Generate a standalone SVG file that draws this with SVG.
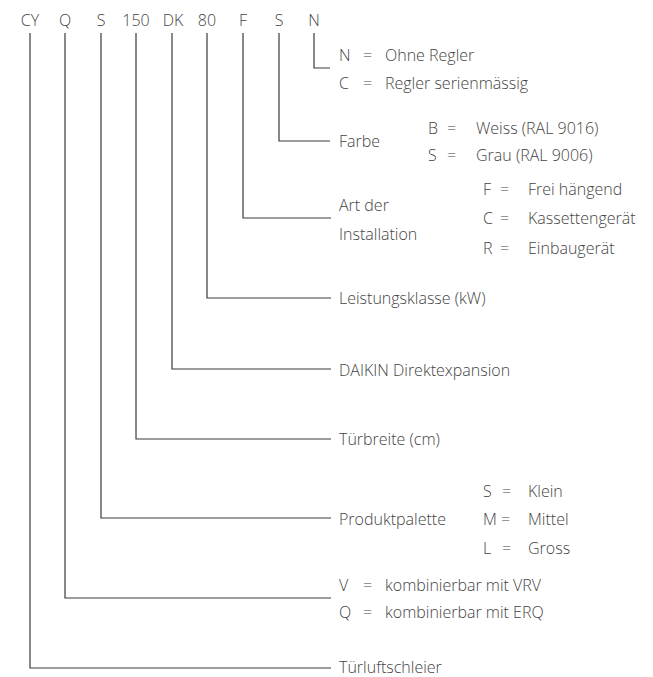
<svg xmlns="http://www.w3.org/2000/svg" width="653" height="677" viewBox="0 0 653 677">
<style>
text{font-family:"Open Sans","Noto Sans","Liberation Sans",sans-serif;font-size:16px;font-weight:300;fill:#444}
.c{text-anchor:middle}
.ln{fill:none;stroke:#3a3a3a;stroke-width:1.2}
</style>
<rect width="653" height="677" fill="#fff"/>
<g id="code">
<text class="c" x="30" y="26">CY</text>
<text class="c" x="65" y="26">Q</text>
<text class="c" x="101" y="26">S</text>
<text class="c" x="136" y="26">150</text>
<text class="c" x="173" y="26">DK</text>
<text class="c" x="207" y="26">80</text>
<text class="c" x="243" y="26">F</text>
<text class="c" x="279" y="26">S</text>
<text class="c" x="314" y="26">N</text>
</g>
<g id="connectors">
<polyline class="ln" points="314,33 314,68 330,68"/>
<polyline class="ln" points="279,33 279,141 330,141"/>
<polyline class="ln" points="243,33 243,218 331,218"/>
<polyline class="ln" points="207,33 207,298 331,298"/>
<polyline class="ln" points="172,33 172,369 331,369"/>
<polyline class="ln" points="136,33 136,439 331,439"/>
<polyline class="ln" points="101,33 101,518 331,518"/>
<polyline class="ln" points="65,33 65,598 331,598"/>
<polyline class="ln" points="30,33 30,668 331,668"/>
</g>
<g id="regler">
<text x="339" y="61">N</text><text x="363" y="61">=</text><text x="385" y="61">Ohne Regler</text>
<text x="339" y="89">C</text><text x="363" y="89">=</text><text x="385" y="89">Regler serienmässig</text>
</g>
<g id="farbe">
<text x="339" y="147">Farbe</text>
<text x="428" y="134">B</text><text x="447" y="134">=</text><text x="476" y="134">Weiss (RAL 9016)</text>
<text x="428" y="161">S</text><text x="447" y="161">=</text><text x="476" y="161">Grau (RAL 9006)</text>
</g>
<g id="installation">
<text x="339" y="211">Art der</text>
<text x="339" y="240">Installation</text>
<text x="483" y="195">F</text><text x="500" y="195">=</text><text x="528" y="195">Frei hängend</text>
<text x="483" y="224">C</text><text x="500" y="224">=</text><text x="528" y="224">Kassettengerät</text>
<text x="483" y="254">R</text><text x="500" y="254">=</text><text x="528" y="254">Einbaugerät</text>
</g>
<g id="leistung">
<text x="339" y="304">Leistungsklasse (kW)</text>
</g>
<g id="daikin">
<text x="339" y="376">DAIKIN Direktexpansion</text>
</g>
<g id="tuerbreite">
<text x="339" y="445">Türbreite (cm)</text>
</g>
<g id="produktpalette">
<text x="339" y="525">Produktpalette</text>
<text x="483" y="497">S</text><text x="502" y="497">=</text><text x="528" y="497">Klein</text>
<text x="483" y="525">M</text><text x="501" y="525">=</text><text x="528" y="525">Mittel</text>
<text x="483" y="554">L</text><text x="502" y="554">=</text><text x="528" y="554">Gross</text>
</g>
<g id="kombination">
<text x="339" y="591">V</text><text x="363" y="591">=</text><text x="385" y="591">kombinierbar mit VRV</text>
<text x="339" y="618">Q</text><text x="363" y="618">=</text><text x="385" y="618">kombinierbar mit ERQ</text>
</g>
<g id="tuerluftschleier">
<text x="339" y="673">Türluftschleier</text>
</g>
</svg>
